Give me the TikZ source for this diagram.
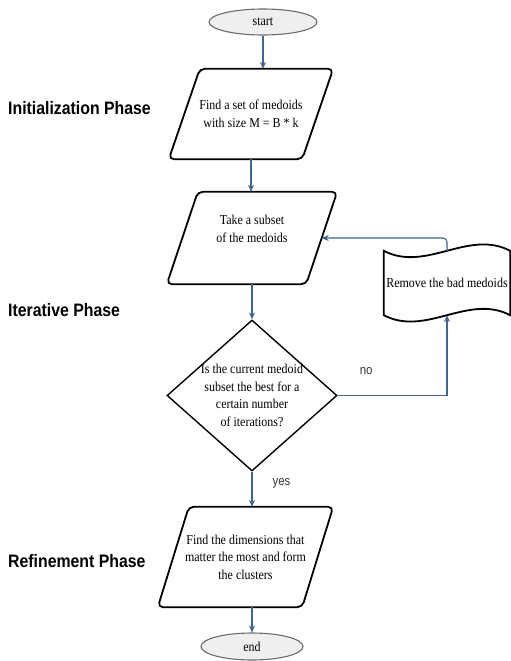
\documentclass[tikz,border=0pt]{standalone}
\usepackage{fontspec}
\setmainfont{Liberation Serif}[FakeStretch=0.88]
\setsansfont{Liberation Sans}[FakeStretch=0.88]
\usepackage{tikz}
\usetikzlibrary{shapes.geometric,arrows.meta,positioning}
\definecolor{flowblue}{HTML}{3E6690}
\definecolor{termfill}{HTML}{EFEFEF}
\definecolor{termline}{HTML}{6B6B6B}
\definecolor{labgray}{HTML}{333333}
\tikzset{
  terminal/.style={ellipse, draw=termline, line width=1.1pt, fill=termfill,
    inner sep=0pt, font=\fontsize{13.6}{16}\selectfont},
  io/.style={inner sep=0pt, align=center, font=\fontsize{13.6}{17.5}\selectfont},
  iobox/.style={draw, line width=1.8pt, rounded corners=5pt},
  decision/.style={diamond, draw, line width=1.4pt, inner sep=0pt},
  txt/.style={align=center, inner sep=0pt, font=\fontsize{13.6}{17.5}\selectfont},
  phase/.style={anchor=west, inner sep=0pt, font=\sffamily\bfseries\fontsize{18}{20}\selectfont},
  lab/.style={inner sep=0pt, text=labgray, font=\sffamily\fontsize{13}{15}\selectfont},
  arrowline/.style={draw=flowblue, line width=1.1pt, -{Stealth[length=7pt,width=6pt]}}
}
% slanted input/output box round a node
\newcommand{\drawio}[1]{\draw[iobox] ([xshift=15.5pt]#1.north west) -- ([xshift=15.5pt]#1.north east)
  -- ([xshift=-15.5pt]#1.south east) -- ([xshift=-15.5pt]#1.south west) -- cycle;}
\begin{document}
\begin{tikzpicture}[x=1pt,y=-1pt]
\useasboundingbox (0,0) rectangle (511,661);

% phases
\node[phase] (initph) at (8,108) {Initialization Phase};
\node[phase] (iterph) at (8,310) {Iterative Phase};
\node[phase] (refph) at (8,561) {Refinement Phase};

% flow
\node[terminal, minimum width=108pt, minimum height=26pt] (start) at (263,22) {start};
\node[io, minimum width=133pt, minimum height=90pt] (findset) at (251,114)
  {Find a set of medoids\\with size M = B * k};
\node[io, minimum width=139pt, minimum height=92pt] (subset) at (252,238) {};
\node[txt] (subsettext) at (252,229) {Take a subset\\of the medoids};
\node[decision, minimum width=170pt, minimum height=151pt] (best) at (252,395.5) {};
\node[txt] (besttext) at (best) {Is the current medoid\\subset the best for a\\certain number\\of iterations?};
\node[txt, minimum width=126pt, minimum height=64pt] (remove) at (447,283) {Remove the bad medoids};
\node[io, minimum width=144pt, minimum height=100pt] (dims) at (245.5,557)
  {Find the dimensions that\\matter the most and form\\the clusters};
\node[terminal, minimum width=102pt, minimum height=27pt] (end) at (252,646.5) {end};

% shapes
\drawio{findset}
\drawio{subset}
\drawio{dims}
\draw[line width=1.8pt] (remove.north west) .. controls +(42,22) and +(-42,-22) .. (remove.north east)
  -- (remove.south east) .. controls +(-42,-22) and +(42,22) .. (remove.south west) -- cycle;

% connectors
\draw[arrowline] (start) -- (start |- findset.north);
\draw[arrowline] (findset.south) -- (findset.south |- subset.north);
\draw[arrowline] (subset.south) -- (best.north);
\draw[arrowline] (best.south) -- node[lab, right=20pt, pos=0.33] (yeslab) {yes} (best.south |- dims.north);
\draw[arrowline] (end.north |- dims.south) -- (end.north);
\draw[arrowline] (best.east) -| node[lab, above=20pt, pos=0.13] (nolab) {no} (remove.south);
\draw[arrowline, rounded corners=4pt] (remove.north) |- (subset.east);
\end{tikzpicture}
\end{document}
